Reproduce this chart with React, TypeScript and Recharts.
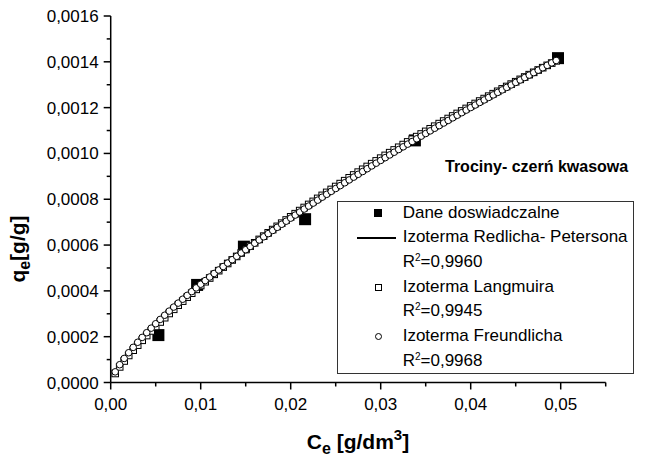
import { ComposedChart, XAxis, YAxis, Scatter, Line } from "recharts";

// Stezenie rownowagowe Ce [g/dm3] - siatka punktow krzywych dopasowania
const ceFit = [
  0.0005, 0.001, 0.0015, 0.002, 0.0025, 0.003, 0.0035, 0.004, 0.0045, 0.005,
  0.0055, 0.006, 0.0065, 0.007, 0.0075, 0.008, 0.0085, 0.009, 0.0095, 0.01,
  0.0105, 0.011, 0.0115, 0.012, 0.0125, 0.013, 0.0135, 0.014, 0.0145, 0.015,
  0.0155, 0.016, 0.0165, 0.017, 0.0175, 0.018, 0.0185, 0.019, 0.0195, 0.02,
  0.0205, 0.021, 0.0215, 0.022, 0.0225, 0.023, 0.0235, 0.024, 0.0245, 0.025,
  0.0255, 0.026, 0.0265, 0.027, 0.0275, 0.028, 0.0285, 0.029, 0.0295, 0.03,
  0.0305, 0.031, 0.0315, 0.032, 0.0325, 0.033, 0.0335, 0.034, 0.0345, 0.035,
  0.0355, 0.036, 0.0365, 0.037, 0.0375, 0.038, 0.0385, 0.039, 0.0395, 0.04,
  0.0405, 0.041, 0.0415, 0.042, 0.0425, 0.043, 0.0435, 0.044, 0.0445, 0.045,
  0.0455, 0.046, 0.0465, 0.047, 0.0475, 0.048, 0.0485, 0.049, 0.0495,
];

// qe [10^-4 g/g] - izoterma Langmuira
const qLangmuir = [
  0.394, 0.681, 0.939, 1.181, 1.41, 1.63, 1.843, 2.05, 2.251, 2.447,
  2.641, 2.829, 3.014, 3.196, 3.376, 3.552, 3.726, 3.898, 4.067, 4.234,
  4.399, 4.562, 4.723, 4.882, 5.039, 5.196, 5.35, 5.503, 5.654, 5.804,
  5.953, 6.099, 6.246, 6.39, 6.534, 6.676, 6.817, 6.956, 7.095, 7.233,
  7.37, 7.505, 7.64, 7.773, 7.906, 8.037, 8.169, 8.299, 8.428, 8.556,
  8.683, 8.81, 8.936, 9.06, 9.184, 9.308, 9.431, 9.553, 9.674, 9.794,
  9.914, 10.033, 10.152, 10.269, 10.387, 10.503, 10.619, 10.734, 10.849, 10.963,
  11.076, 11.189, 11.302, 11.414, 11.524, 11.635, 11.745, 11.855, 11.964, 12.073,
  12.18, 12.288, 12.395, 12.501, 12.608, 12.713, 12.818, 12.923, 13.027, 13.131,
  13.234, 13.337, 13.439, 13.541, 13.643, 13.744, 13.845, 13.945, 14.045,
];

// qe [10^-4 g/g] - izoterma Freundlicha
const qFreundlich = [
  0.465, 0.777, 1.05, 1.3, 1.534, 1.756, 1.969, 2.174, 2.373, 2.565,
  2.754, 2.937, 3.117, 3.293, 3.466, 3.636, 3.803, 3.968, 4.131, 4.291,
  4.449, 4.605, 4.76, 4.912, 5.063, 5.213, 5.361, 5.508, 5.653, 5.797,
  5.94, 6.081, 6.222, 6.361, 6.5, 6.637, 6.773, 6.908, 7.043, 7.176,
  7.309, 7.441, 7.572, 7.702, 7.832, 7.96, 8.089, 8.216, 8.343, 8.469,
  8.594, 8.719, 8.843, 8.966, 9.089, 9.211, 9.333, 9.455, 9.575, 9.695,
  9.815, 9.934, 10.053, 10.171, 10.289, 10.406, 10.522, 10.639, 10.755, 10.87,
  10.985, 11.1, 11.214, 11.328, 11.441, 11.554, 11.667, 11.779, 11.891, 12.003,
  12.113, 12.225, 12.335, 12.445, 12.555, 12.664, 12.773, 12.882, 12.99, 13.099,
  13.206, 13.314, 13.421, 13.528, 13.635, 13.741, 13.847, 13.953, 14.058,
];

// izoterma Redlicha-Petersona (linia)
const ceRP = [0.0005, 0.001, 0.002, 0.003, 0.005, 0.0075, 0.01, 0.015, 0.02, 0.025, 0.03, 0.035, 0.04, 0.045, 0.0495];
const qRP = [0.45, 0.76, 1.28, 1.73, 2.53, 3.43, 4.25, 5.76, 7.15, 8.45, 9.68, 10.85, 11.98, 13.06, 14.01];

// dane doswiadczalne
const ceExp = [0.0053, 0.0096, 0.0148, 0.0216, 0.0338, 0.0497];
const qExp = [2.07, 4.26, 5.93, 7.13, 10.57, 14.16];

const xTicks = [0, 0.005, 0.01, 0.015, 0.02, 0.025, 0.03, 0.035, 0.04, 0.045, 0.05, 0.055];
const yTicks = [0, 0.0001, 0.0002, 0.0003, 0.0004, 0.0005, 0.0006, 0.0007, 0.0008, 0.0009, 0.001, 0.0011, 0.0012, 0.0013, 0.0014, 0.0015, 0.0016];

const legendRows = ["Dane doswiadczalne", "Izoterma Redlicha- Petersona", "0,9960", "Izoterma Langmuira", "0,9945", "Izoterma Freundlicha", "0,9968"];

const FONT = "'Liberation Sans', Arial, sans-serif";

// 10^-4 g/g -> g/g
const toPoints = (xs: number[], qs: number[]) => xs.map((x, i) => ({ x, y: qs[i] * 1e-4 }));

const expData = toPoints(ceExp, qExp);
const rpData = toPoints(ceRP, qRP);
const langData = toPoints(ceFit, qLangmuir);
const freundData = toPoints(ceFit, qFreundlich);

const XTick = (props: any) => {
  const { x, y, payload, index } = props;
  const major = index % 2 === 0;
  return (
    <g>
      <line x1={x} x2={x} y1={y} y2={y + (major ? 7 : 4)} stroke="#000" strokeWidth={1.5} />
      {major && (
        <text x={x} y={y + 27} textAnchor="middle" fontSize={17} fontFamily={FONT} fill="#000">
          {payload.value.toFixed(2).replace(".", ",")}
        </text>
      )}
    </g>
  );
};

const YTick = (props: any) => {
  const { x, y, payload, index } = props;
  const major = index % 2 === 0;
  return (
    <g>
      <line x1={x - (major ? 7 : 4)} x2={x} y1={y} y2={y} stroke="#000" strokeWidth={1.5} />
      {major && (
        <text x={x - 12} y={y + 6} textAnchor="end" fontSize={17} fontFamily={FONT} fill="#000">
          {payload.value.toFixed(4).replace(".", ",")}
        </text>
      )}
    </g>
  );
};

const ExpMark = (p: any) => <rect x={p.cx - 6} y={p.cy - 6} width={12} height={12} fill="#000" />;
const SquareMark = (p: any) => (
  <rect x={p.cx - 3.3} y={p.cy - 3.3} width={6.6} height={6.6} fill="#fff" stroke="#000" strokeWidth={1} />
);
const CircleMark = (p: any) => <circle cx={p.cx} cy={p.cy} r={3.3} fill="#fff" stroke="#000" strokeWidth={1} />;

const ROW = 24.7;

const Legend = () => (
  <div
    style={{
      position: "absolute",
      left: 329,
      top: 192.7,
      width: 297,
      height: 173,
      border: "1px solid #333",
      background: "#fff",
      boxSizing: "border-box",
      fontFamily: FONT,
      fontSize: 17,
    }}
  >
    {legendRows.map((label, k) => {
      const isR2 = k === 2 || k === 4 || k === 6;
      return (
        <div key={k} style={{ position: "absolute", left: 0, top: ROW * k - 1, height: ROW, width: "100%" }}>
          {k === 0 && (
            <div style={{ position: "absolute", left: 36.3, top: ROW / 2 - 4, width: 8, height: 8, background: "#000" }} />
          )}
          {k === 1 && (
            <div style={{ position: "absolute", left: 19, top: ROW / 2 - 1, width: 39, height: 2.2, background: "#000" }} />
          )}
          {k === 3 && (
            <div style={{ position: "absolute", left: 37.3, top: ROW / 2 - 3.5, width: 7, height: 7, border: "1px solid #000", boxSizing: "border-box" }} />
          )}
          {k === 5 && (
            <div style={{ position: "absolute", left: 37.3, top: ROW / 2 - 3.5, width: 7, height: 7, border: "1px solid #000", borderRadius: "50%", boxSizing: "border-box" }} />
          )}
          <div style={{ position: "absolute", left: 64.7, top: 0, height: ROW, lineHeight: `${ROW}px`, whiteSpace: "nowrap" }}>
            {isR2 ? (
              <>
                R<sup style={{ fontSize: 10, verticalAlign: "top", position: "relative", top: -4 }}>2</sup>={label}
              </>
            ) : (
              label
            )}
          </div>
        </div>
      );
    })}
  </div>
);

export default function App() {
  return (
    <div style={{ position: "relative", width: 638, height: 453, fontFamily: FONT, background: "#fff" }}>
      <ComposedChart width={638} height={453} margin={{ top: 8, right: 40.3, left: 0, bottom: 0 }}>
        <XAxis
          type="number"
          dataKey="x"
          domain={[0, 0.055]}
          ticks={xTicks}
          interval={0}
          height={78.5}
          tickSize={0}
          tickMargin={0}
          tickLine={false}
          axisLine={{ stroke: "#000", strokeWidth: 1.5 }}
          tick={<XTick />}
        />
        <YAxis
          type="number"
          dataKey="y"
          domain={[0, 0.0016]}
          ticks={yTicks}
          interval={0}
          width={102.7}
          tickSize={0}
          tickMargin={0}
          tickLine={false}
          axisLine={{ stroke: "#000", strokeWidth: 1.5 }}
          tick={<YTick />}
        />
        <Scatter data={expData} dataKey="y" shape={<ExpMark />} isAnimationActive={false} />
        <Line data={rpData} dataKey="y" type="monotone" stroke="#000" strokeWidth={2.2} dot={false} isAnimationActive={false} />
        <Scatter data={langData} dataKey="y" shape={<SquareMark />} isAnimationActive={false} />
        <Scatter data={freundData} dataKey="y" shape={<CircleMark />} isAnimationActive={false} />
      </ComposedChart>

      <Legend />

      <div
        style={{
          position: "absolute",
          left: 437,
          top: 158.7,
          transform: "translateY(-50%)",
          fontWeight: "bold",
          fontSize: 16,
          whiteSpace: "nowrap",
        }}
      >
        Trociny- czerń kwasowa
      </div>

      <div
        style={{
          position: "absolute",
          left: 350,
          top: 434,
          transform: "translate(-50%, -50%)",
          fontWeight: "bold",
          fontSize: 21,
          whiteSpace: "nowrap",
        }}
      >
        C<sub style={{ fontSize: 16, verticalAlign: "baseline", position: "relative", top: 5 }}>e</sub> [g/dm
        <sup style={{ fontSize: 15, verticalAlign: "baseline", position: "relative", top: -9 }}>3</sup>]
      </div>

      <div
        style={{
          position: "absolute",
          left: 10,
          top: 241,
          transform: "translate(-50%, -50%) rotate(-90deg)",
          fontWeight: "bold",
          fontSize: 21,
          whiteSpace: "nowrap",
        }}
      >
        q<sub style={{ fontSize: 16, verticalAlign: "baseline", position: "relative", top: 5 }}>e</sub>[g/g]
      </div>
    </div>
  );
}
